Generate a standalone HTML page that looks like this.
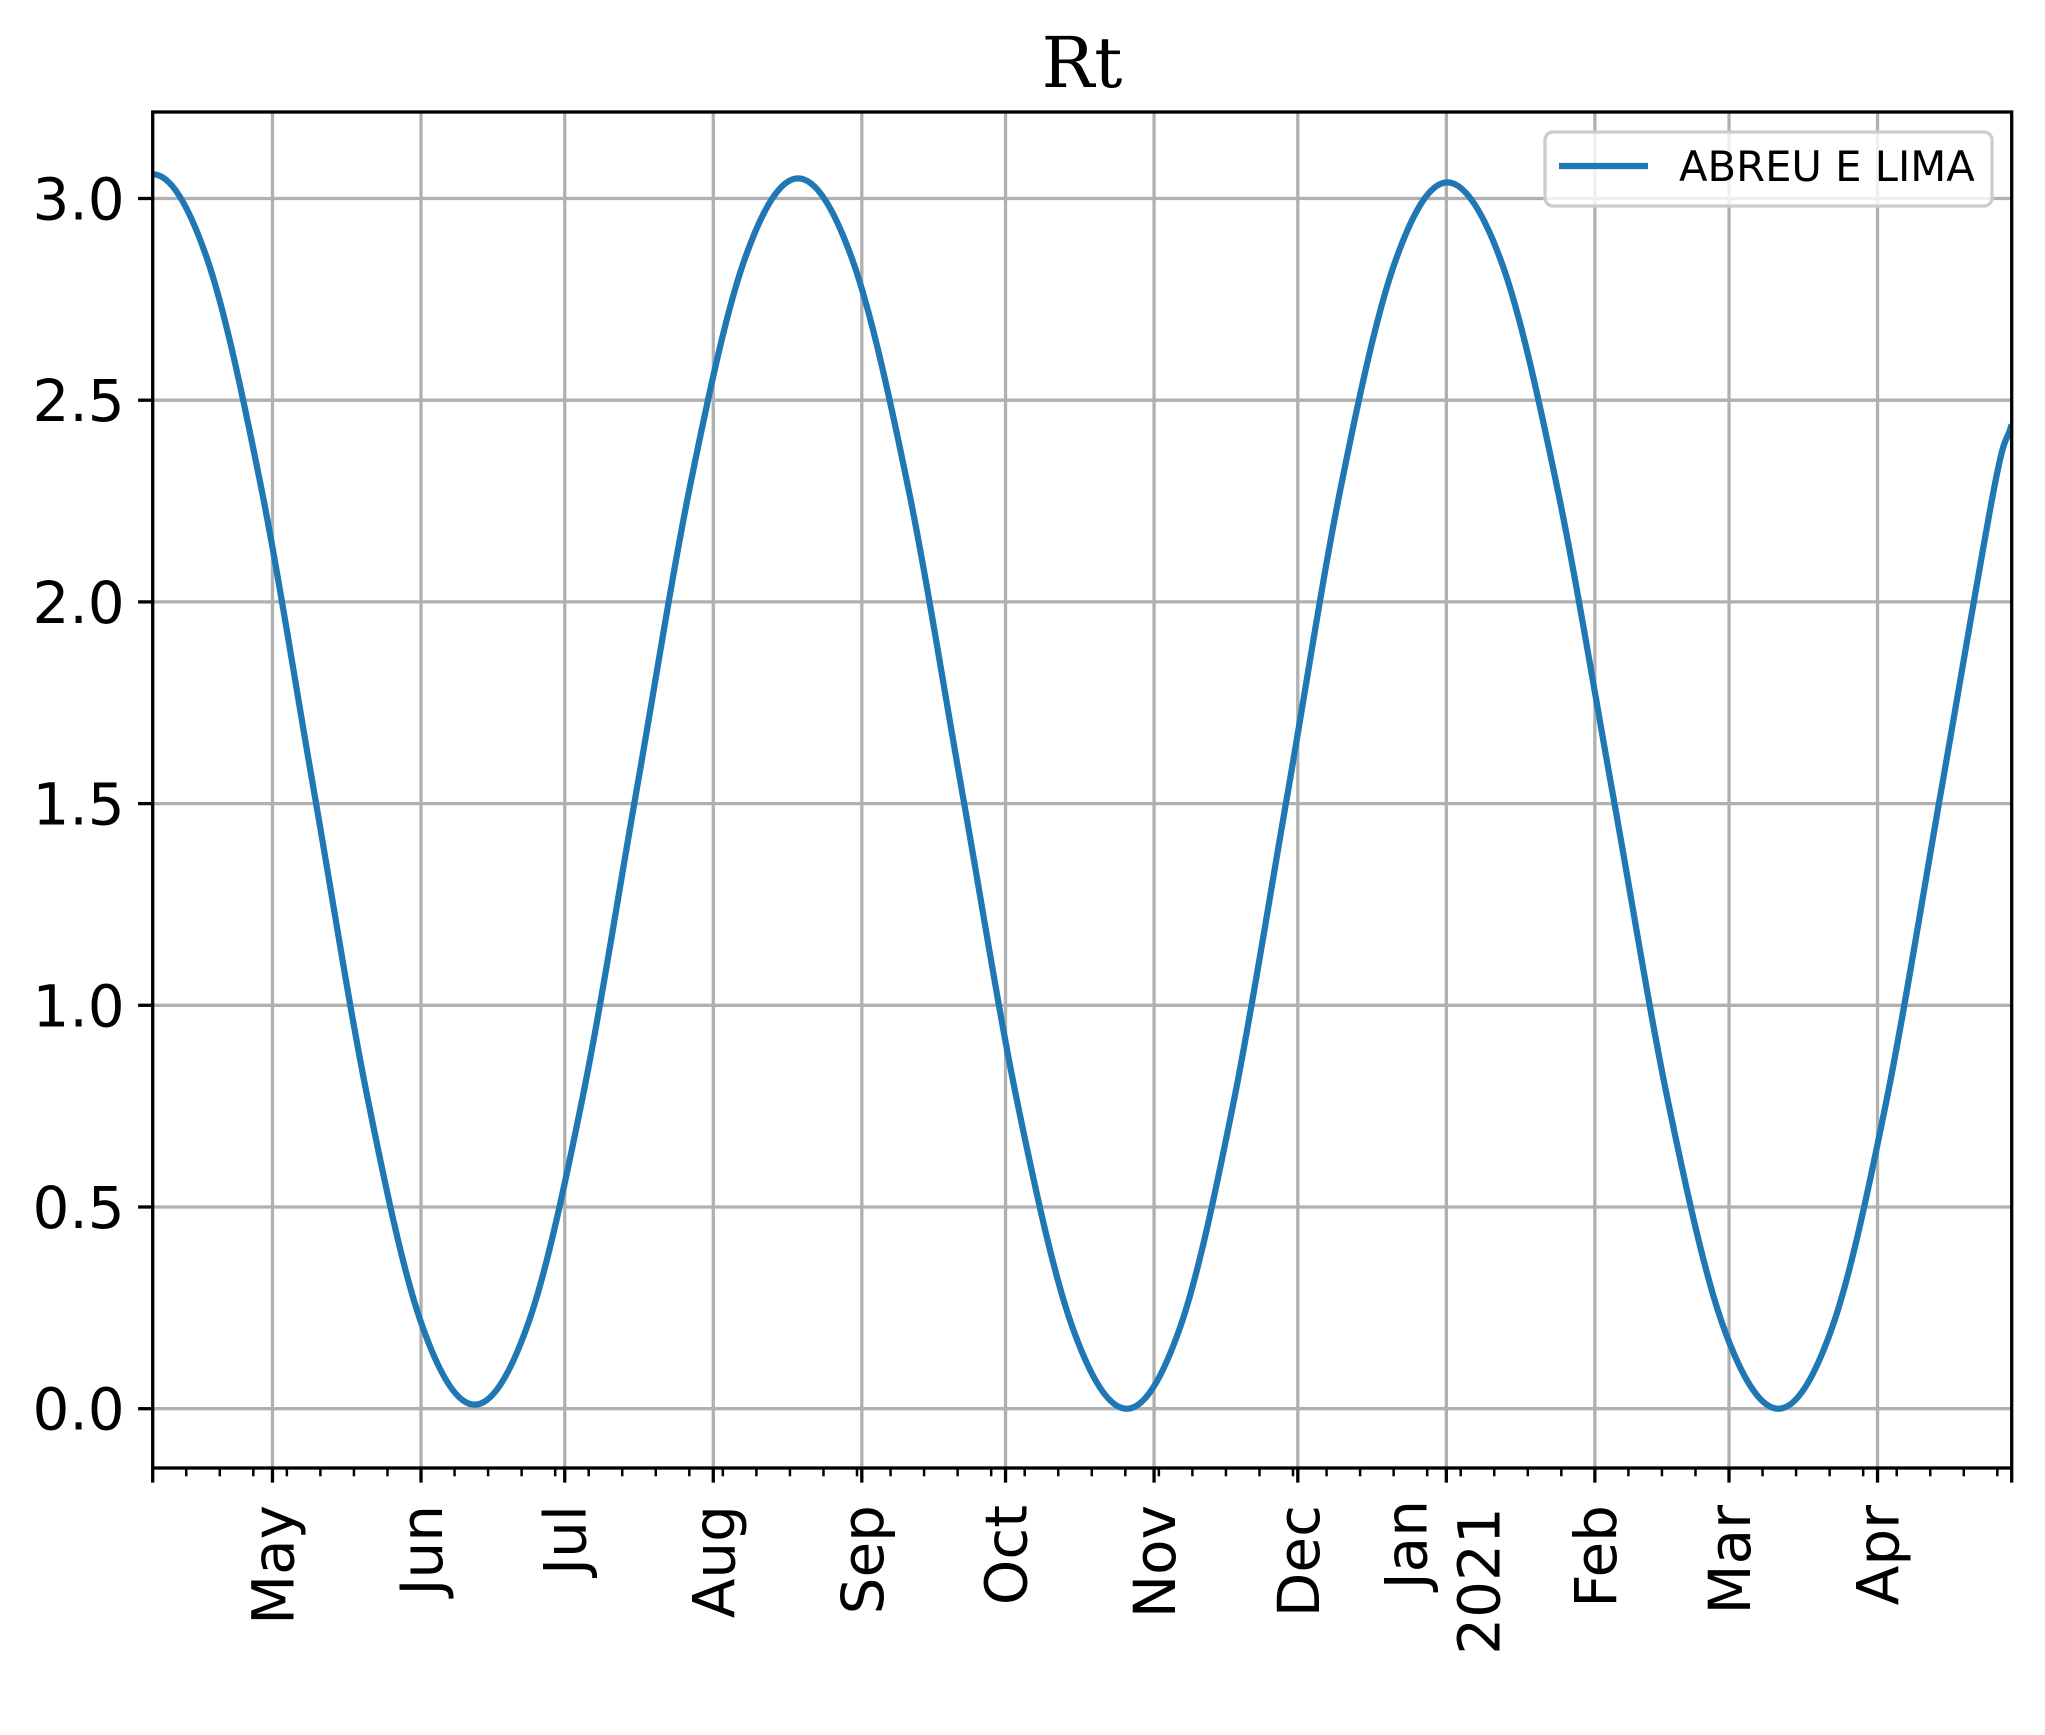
<!DOCTYPE html>
<html><head><meta charset="utf-8"><style>
html,body{margin:0;padding:0;background:#fff;}
svg{display:block;}
</style></head><body>
<svg id="chart" width="2045" height="1735" viewBox="0 0 2045 1735" xmlns="http://www.w3.org/2000/svg">
<rect width="2045" height="1735" fill="#fff"/>
<text x="1082" y="87" text-anchor="middle" font-family="'DejaVu Serif','Liberation Serif',serif" font-size="70">Rt</text>
<g id="grid"></g>
<g id="series"></g>
<g id="axes"></g>
<g>
<rect x="1545" y="132" width="447" height="74" rx="8" fill="#fff" fill-opacity="0.8" stroke="#cccccc" stroke-width="3.3"/>
<line x1="1559" y1="166" x2="1648" y2="166" stroke="#1f77b4" stroke-width="6.25"/>
<text x="1679" y="181" font-family="'DejaVu Sans','Liberation Sans',sans-serif" font-size="41.7">ABREU E LIMA</text>
</g>
</svg>
<script>
// start date 2020-04-06 = day 0
const seriesDays = [0,11.2,22.4,33.6,44.8,56,67.2,78.45,89.7,100.95,112.2,123.45,134.7,146.1,157.6,169.0,180.4,191.9,203.3,214.5,225.6,236.8,247.9,259.1,270.2,281.7,293.2,304.8,316.3,327.8,339.3,350.6,361.8,373.1,384.3,388];
const seriesValues = [3.06,2.856,2.298,1.535,0.773,0.214,0.01,0.214,0.77,1.53,2.29,2.846,3.05,2.846,2.288,1.525,0.763,0.204,0,0.204,0.76,1.52,2.28,2.836,3.04,2.836,2.28,1.52,0.76,0.204,0,0.204,0.76,1.52,2.28,2.44];
const monthLabels = ["May","Jun","Jul","Aug","Sep","Oct","Nov","Dec","Jan","Feb","Mar","Apr"];
const monthDays = [25,56,86,117,148,178,209,239,270,301,329,360];
const yTicks = [0,0.5,1.0,1.5,2.0,2.5,3.0];
const yTickLabels = ["0.0","0.5","1.0","1.5","2.0","2.5","3.0"];

const L=152.7,R=2011.7,T=112,B=1468,DMAX=388;
const X=d=>L+d*(R-L)/DMAX;
const Y=v=>1408.7-v*403.4;
const NS="http://www.w3.org/2000/svg";
function mk(tag,attrs,parent){const e=document.createElementNS(NS,tag);for(const k in attrs)e.setAttribute(k,attrs[k]);parent.appendChild(e);return e;}
const grid=document.getElementById('grid'),axes=document.getElementById('axes'),series=document.getElementById('series');
const FS="'DejaVu Sans','Liberation Sans',sans-serif";

yTicks.forEach((v,i)=>{
  const g=mk('line',{x1:L,x2:R,y1:Y(v),y2:Y(v),stroke:'#b0b0b0','stroke-width':3.3},grid);
  
  
  const t=mk('line',{x1:L-14.6,x2:L,y1:Y(v),y2:Y(v),stroke:'#000','stroke-width':3.3},axes);
  
  
  const tx=mk('text',{x:L-28,y:Y(v)+21,'text-anchor':'end','font-family':FS,'font-size':58},axes);
  tx.textContent=yTickLabels[i];
  
  
});
monthDays.forEach((d,i)=>{
  const x=X(d);
  const g=mk('line',{x1:x,x2:x,y1:T,y2:B,stroke:'#b0b0b0','stroke-width':3.3},grid);
  
  
  const t=mk('line',{x1:x,x2:x,y1:B,y2:B+14.6,stroke:'#000','stroke-width':3.3},axes);
  
  
  if(monthLabels[i]==="Jan"){
    const a=mk('text',{transform:`translate(${x-20},1500) rotate(-90)`,'text-anchor':'end','font-family':FS,'font-size':58},axes);
    a.textContent="Jan";
    
    
    const b=mk('text',{transform:`translate(${x+53},1581) rotate(-90)`,'text-anchor':'middle','font-family':FS,'font-size':58},axes);
    b.textContent="2021";
    
    
  } else {
    const a=mk('text',{transform:`translate(${x+21},1505) rotate(-90)`,'text-anchor':'end','font-family':FS,'font-size':58},axes);
    a.textContent=monthLabels[i];
    
    
  }
});
for(let d=0;d<=DMAX;d+=7){
  const m=mk('line',{x1:X(d),x2:X(d),y1:B,y2:B+8.3,stroke:'#000','stroke-width':2.5},axes);
  
  
}
const re=mk('line',{x1:R,x2:R,y1:B,y2:B+14.6,stroke:'#000','stroke-width':3.3},axes);


const le=mk('line',{x1:L,x2:L,y1:B,y2:B+14.6,stroke:'#000','stroke-width':3.3},axes);



// curve via Catmull-Rom
const P=seriesDays.map((d,i)=>[X(d),Y(seriesValues[i])]);
const n=P.length;
const first=[2*P[0][0]-P[1][0],P[1][1]];
const last=[2*P[n-1][0]-P[n-2][0],2*P[n-1][1]-P[n-2][1]];
let dstr=`M${P[0][0]},${P[0][1]}`;
for(let i=0;i<n-1;i++){
  const p0=i===0?first:P[i-1],p1=P[i],p2=P[i+1],p3=i+2<n?P[i+2]:last;
  const c1=[p1[0]+(p2[0]-p0[0])/6,p1[1]+(p2[1]-p0[1])/6];
  const c2=[p2[0]-(p3[0]-p1[0])/6,p2[1]-(p3[1]-p1[1])/6];
  dstr+=` C${c1[0]},${c1[1]} ${c2[0]},${c2[1]} ${p2[0]},${p2[1]}`;
}
const cp=mk('clipPath',{id:'clip'},series);
mk('rect',{x:L,y:T,width:R-L,height:B-T},cp);
const path=mk('path',{d:dstr,fill:'none',stroke:'#1f77b4','stroke-width':6.25,'stroke-linejoin':'round','clip-path':'url(#clip)'},series);



const sp=mk('rect',{x:L,y:T,width:R-L,height:B-T,fill:'none',stroke:'#000','stroke-width':3.3},axes);


</script>
</body></html>
